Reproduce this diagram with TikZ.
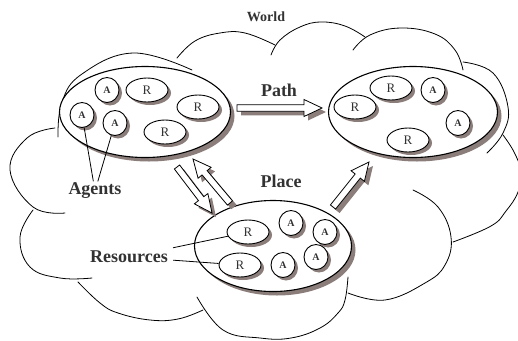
\documentclass[tikz,border=0pt]{standalone}
\usepackage{fontspec}
\setmainfont{Liberation Serif}
\usetikzlibrary{shapes.geometric,shadows,calc}

\definecolor{shadowc}{RGB}{138,125,122}
\definecolor{inkc}{RGB}{50,50,50}

% hollow block arrow between two named points, with a drop shadow
\newcommand\blockarrow[2]{%
  \coordinate (hb) at ($(#2)!18pt!(#1)$);
  \path[blockarrowstyle]
    ($(#1)!3.3pt!90:(#2)$) -- ($(hb)!3.3pt!-90:(#1)$) -- ($(hb)!8.5pt!-90:(#1)$)
    -- (#2) -- ($(hb)!8.5pt!90:(#1)$) -- ($(hb)!3.3pt!90:(#1)$)
    -- ($(#1)!3.3pt!-90:(#2)$) -- cycle;
}

\tikzset{
  cloudline/.style={line width=0.8pt, line cap=round},
  place/.style={ellipse, draw, line width=1.1pt, fill=white, inner sep=0pt,
    drop shadow={shadow xshift=4pt, shadow yshift=-4pt, fill=shadowc, opacity=1}},
  item/.style={ellipse, draw, line width=0.9pt, fill=white, inner sep=0pt, text=inkc,
    drop shadow={shadow xshift=3pt, shadow yshift=-3pt, fill=shadowc, opacity=1}},
  resource/.style={item, minimum width=42pt, minimum height=24pt,
    font=\fontsize{13}{13}\selectfont},
  agent/.style={item, minimum width=24pt, minimum height=25pt,
    font=\bfseries\fontsize{10}{10}\selectfont},
  caption/.style={font=\bfseries\fontsize{18}{18}\selectfont, text=inkc, inner sep=1.5pt},
  blockarrowstyle/.style={draw, line width=0.8pt, fill=white, line join=miter,
    drop shadow={shadow xshift=4pt, shadow yshift=-4pt, fill=shadowc, opacity=1}},
  pointer/.style={line width=0.8pt},
}

\begin{document}
\begin{tikzpicture}[x=1pt, y=-1pt]
\useasboundingbox (0,0) rectangle (518,340);

% the world cloud, one lobe at a time
\begin{scope}[cloudline]
  \draw plot[smooth, tension=0.7] coordinates {(58,137) (62,102) (82,74) (133,53) (192,70)};
  \draw plot[smooth, tension=0.7] coordinates {(177,58) (195,41) (220,33) (245,33) (275,45)};
  \draw plot[smooth, tension=0.7] coordinates {(271,55) (280,40) (300,27) (321,22) (345,26) (365,37)};
  \draw plot[smooth, tension=0.7] coordinates {(353,50) (370,35) (401,28) (435,34) (455,50) (463,70)};
  \draw plot[smooth, tension=0.7] coordinates {(463,62) (493,73) (508,107) (503,133) (487,153)};
  \draw plot[smooth, tension=0.7] coordinates {(503,135) (514,152) (521,172) (518,192) (506,211) (491,226) (453,242)};
  \draw plot[smooth, tension=0.7] coordinates {(413,190) (438,207) (451,237) (445,265) (425,283) (385,300) (348,293)};
  \draw plot[smooth, tension=0.7] coordinates {(348,277) (345,300) (338,313) (320,328) (291,338) (260,338) (223,330) (197,297)};
  \draw plot[smooth, tension=0.7] coordinates {(203,310) (178,319) (150,320) (118,313) (100,303) (78,282)};
  \draw plot[smooth, tension=0.7] coordinates {(33,210) (20,237) (30,267) (60,278) (92,278)};
  \draw plot[smooth, tension=0.7] coordinates {(55,128) (27,138) (10,170) (33,207) (65,213)};
\end{scope}

% places
\node[place, minimum width=171pt, minimum height=91pt] (left) at (145,112) {};
\node[place, minimum width=169pt, minimum height=91pt] (right) at (413,112) {};
\node[place, minimum width=157pt, minimum height=91pt] (bottom) at (273,246) {};

% agents and resources in the left place
\node[agent]    (la1) at (107,90)  {A};
\node[resource] (lr1) at (147,90)  {R};
\node[resource] (lr2) at (198,107) {R};
\node[agent]    (la2) at (82,115)  {A};
\node[agent]    (la3) at (115,123) {A};
\node[resource] (lr3) at (165,132) {R};

% agents and resources in the right place
\node[resource] (rr1) at (355,107) {R};
\node[resource] (rr2) at (391,88)  {R};
\node[agent]    (ra1) at (433,90)  {A};
\node[agent]    (ra2) at (458,123) {A};
\node[resource] (rr3) at (408,140) {R};

% agents and resources in the bottom place
\node[resource] (br1) at (248,232) {R};
\node[resource] (br2) at (240,265) {R};
\node[agent]    (ba1) at (291,223) {A};
\node[agent]    (ba2) at (325,232) {A};
\node[agent]    (ba3) at (316,257) {A};
\node[agent]    (ba4) at (283,265) {A};

% arrow end points
\coordinate (pathfrom) at (237,108);
\coordinate (pathto)   at (322,108);
\coordinate (downfrom) at (177,167);
\coordinate (downto)   at (212,213);
\coordinate (upfrom)   at (230,203);
\coordinate (upto)     at (193,159);
\coordinate (outfrom)  at (333,207);
\coordinate (outto)    at (369,162);

\blockarrow{pathfrom}{pathto}
\blockarrow{upfrom}{upto}
\blockarrow{downfrom}{downto}
\blockarrow{outfrom}{outto}

% captions
\node[font=\bfseries\fontsize{14}{14}\selectfont, text=inkc] (world) at (266,17) {World};
\node[caption] (path)   at (279,90)  {Path};
\node[caption] (placel) at (281,181) {Place};
\node[caption] (agents) at (95,191)  {Agents};
\node[caption, inner sep=5pt] (resources) at (129,257) {Resources};

% pointers from captions
\draw[pointer] (agents) -- (la2);
\draw[pointer] (agents) -- (la3);
\draw[pointer] (resources) -- (br1);
\draw[pointer] (resources) -- (br2);
\end{tikzpicture}
\end{document}
